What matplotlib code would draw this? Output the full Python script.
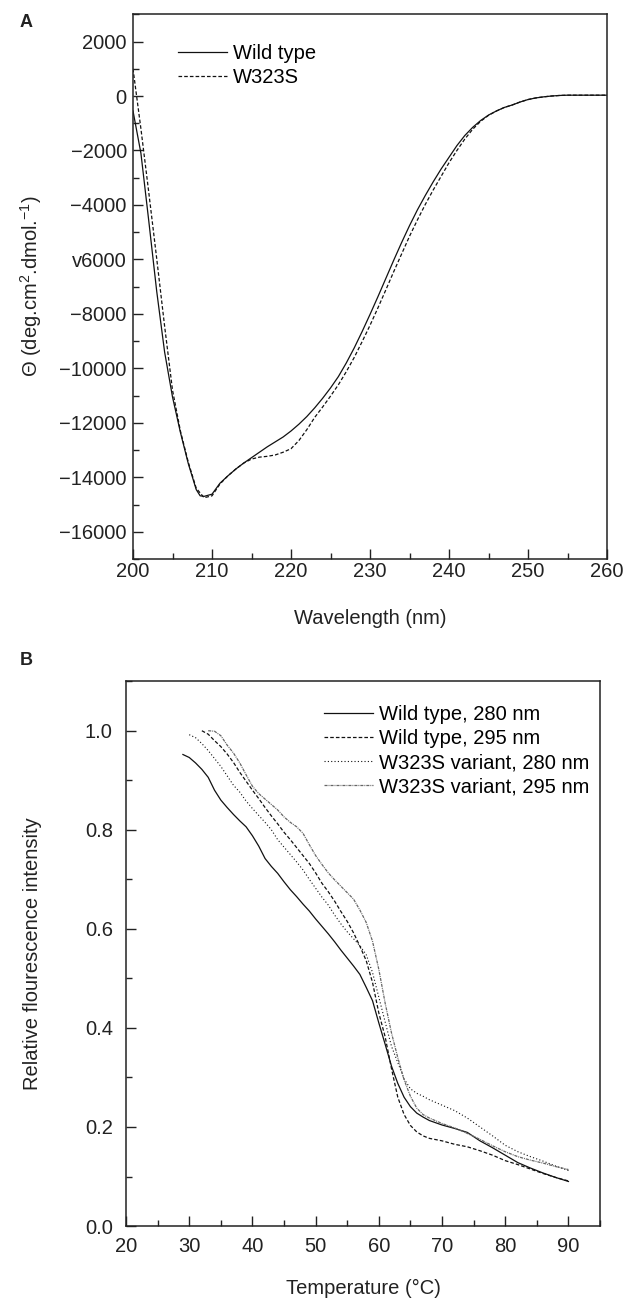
import matplotlib
matplotlib.use("Agg")
import matplotlib.pyplot as plt
from matplotlib.ticker import MultipleLocator, FixedLocator

plt.rcParams['font.family'] = ['Liberation Sans', 'DejaVu Sans']
plt.rcParams['lines.scale_dashes'] = False
plt.rcParams['mathtext.fontset'] = 'custom'
plt.rcParams['mathtext.rm'] = 'Liberation Sans'
plt.rcParams['mathtext.it'] = 'Liberation Sans'

# ---------------- Panel A data (CD spectra) ----------------
wl_wt = [200, 201, 202, 203, 204, 205, 206, 207, 208, 208.5, 209, 210, 211, 212, 213,
         214, 215, 216, 217, 218, 219, 220, 221, 222, 223, 224, 225, 226, 227, 228,
         229, 230, 231, 232, 233, 234, 235, 236, 237, 238, 239, 240, 241, 242, 243,
         244, 245, 246, 247, 248, 249, 250, 251, 252, 253, 254, 255, 256, 257, 258,
         259, 260]
cd_wt = [-550, -2100, -4600, -7170, -9400, -11050, -12350, -13500, -14450, -14680,
         -14700, -14620, -14220, -13950, -13700, -13480, -13280, -13080, -12880,
         -12700, -12520, -12300, -12050, -11770, -11450, -11100, -10720, -10300,
         -9800, -9250, -8650, -8020, -7370, -6700, -6030, -5380, -4760, -4180,
         -3650, -3150, -2680, -2250, -1820, -1450, -1150, -900, -700, -550, -420,
         -330, -220, -130, -70, -30, 0, 20, 30, 30, 30, 30, 30, 30]

wl_mut = [200, 201, 202, 203, 204, 205, 206, 207, 208, 209, 210, 211, 212, 213, 214,
          215, 216, 217, 218, 219, 220, 221, 222, 223, 224, 225, 226, 227, 228, 229,
          230, 231, 232, 233, 234, 235, 236, 237, 238, 239, 240, 241, 242, 243, 244,
          245, 246, 247, 248, 249, 250, 251, 252, 253, 254, 255, 256, 257, 258, 259,
          260]
cd_mut = [1000, -1200, -3550, -5970, -8450, -10800, -12300, -13450, -14400, -14750,
          -14680, -14250, -13950, -13700, -13480, -13330, -13260, -13230, -13180,
          -13080, -12950, -12650, -12250, -11800, -11420, -11020, -10600, -10120,
          -9600, -9020, -8420, -7780, -7120, -6450, -5800, -5150, -4550, -3980,
          -3450, -2950, -2450, -2000, -1580, -1220, -930, -710, -550, -420, -330,
          -220, -130, -70, -30, 0, 20, 30, 30, 30, 30, 30, 30]

a_yticks = [-16000, -14000, -12000, -10000, -8000, -6000, -4000, -2000, 0, 2000]
a_yticklabels = ['\u221216000', '\u221214000', '\u221212000', '\u221210000', '\u22128000',
                 'v6000', '\u22124000', '\u22122000', '0', '2000']
a_xticks = [200, 210, 220, 230, 240, 250, 260]

# ---------------- Panel B data (thermal unfolding) ----------------
t_wt280 = [29, 30, 31, 32, 33, 34, 35, 36, 37, 38, 39, 40, 41, 42, 43, 44, 45, 46, 47,
           48, 49, 50, 51, 52, 53, 54, 55, 56, 57, 58, 59, 60, 61, 62, 63, 64, 65, 66,
           67, 68, 70, 72, 74, 76, 78, 80, 82, 84, 86, 88, 90]
f_wt280 = [0.952, 0.946, 0.935, 0.922, 0.906, 0.880, 0.860, 0.845, 0.831, 0.818,
           0.806, 0.788, 0.767, 0.742, 0.726, 0.712, 0.695, 0.679, 0.665, 0.650,
           0.636, 0.620, 0.605, 0.590, 0.574, 0.557, 0.541, 0.525, 0.508, 0.482,
           0.455, 0.410, 0.367, 0.323, 0.288, 0.260, 0.241, 0.228, 0.220, 0.213,
           0.204, 0.197, 0.189, 0.172, 0.158, 0.143, 0.128, 0.117, 0.107, 0.098,
           0.090]

t_wt295 = [32, 33, 34, 35, 36, 37, 38, 39, 40, 41, 42, 43, 44, 45, 46, 47, 48, 49, 50,
           51, 52, 53, 54, 55, 56, 57, 58, 59, 60, 61, 62, 63, 64, 65, 66, 67, 68, 70,
           72, 74, 76, 78, 80, 82, 84, 86, 88, 90]
f_wt295 = [1.000, 0.993, 0.980, 0.968, 0.953, 0.936, 0.916, 0.898, 0.880, 0.863,
           0.845, 0.828, 0.812, 0.795, 0.780, 0.764, 0.748, 0.732, 0.713, 0.692,
           0.675, 0.656, 0.635, 0.615, 0.592, 0.565, 0.536, 0.492, 0.430, 0.382,
           0.318, 0.260, 0.225, 0.203, 0.190, 0.182, 0.177, 0.172, 0.165, 0.160,
           0.152, 0.143, 0.132, 0.124, 0.115, 0.106, 0.098, 0.091]

t_mut280 = [30, 31, 32, 33, 34, 35, 36, 37, 38, 39, 40, 41, 42, 43, 44, 45, 46, 47, 48,
            49, 50, 51, 52, 53, 54, 55, 56, 57, 58, 59, 60, 61, 62, 63, 64, 65, 66, 67,
            68, 70, 72, 74, 76, 78, 80, 82, 84, 86, 88, 90]
f_mut280 = [0.992, 0.986, 0.974, 0.960, 0.944, 0.928, 0.909, 0.890, 0.876, 0.858,
            0.843, 0.829, 0.815, 0.800, 0.780, 0.765, 0.750, 0.735, 0.719, 0.700,
            0.682, 0.664, 0.648, 0.628, 0.610, 0.594, 0.580, 0.566, 0.548, 0.512,
            0.462, 0.412, 0.363, 0.330, 0.297, 0.277, 0.268, 0.262, 0.255, 0.244,
            0.233, 0.218, 0.200, 0.182, 0.163, 0.150, 0.140, 0.131, 0.121, 0.112]

t_mut295 = [33, 34, 35, 36, 37, 38, 39, 40, 41, 42, 43, 44, 45, 46, 47, 48, 49, 50, 51,
            52, 53, 54, 55, 56, 57, 58, 59, 60, 61, 62, 63, 64, 65, 66, 67, 68, 70, 72,
            74, 76, 78, 80, 82, 84, 86, 88, 90]
f_mut295 = [1.000, 0.999, 0.990, 0.971, 0.955, 0.935, 0.911, 0.888, 0.873, 0.862,
            0.851, 0.840, 0.826, 0.815, 0.806, 0.793, 0.770, 0.748, 0.730, 0.713,
            0.699, 0.686, 0.673, 0.660, 0.638, 0.613, 0.575, 0.518, 0.450, 0.390,
            0.340, 0.295, 0.262, 0.238, 0.225, 0.218, 0.207, 0.198, 0.187, 0.175,
            0.162, 0.150, 0.140, 0.133, 0.127, 0.120, 0.114]

b_xticks = [20, 30, 40, 50, 60, 70, 80, 90]
b_yticks = [0.0, 0.2, 0.4, 0.6, 0.8, 1.0]

# ---------------- Figure ----------------
FS = 14.5
INK = '#222222'
fig = plt.figure(figsize=(6.41, 13.0), dpi=100)

axA = fig.add_axes([0.2075, 0.570, 0.7395, 0.419])
axA.plot(wl_wt, cd_wt, color='#111111', lw=0.9, ls='-', label='Wild type')
axA.plot(wl_mut, cd_mut, color='#111111', lw=0.9, ls=(0, (2.6, 1.5)), label='W323S')
axA.set_xlim(200, 260)
axA.set_ylim(-17000, 3000)
axA.xaxis.set_major_locator(FixedLocator(a_xticks))
axA.xaxis.set_minor_locator(MultipleLocator(5))
axA.yaxis.set_major_locator(FixedLocator(a_yticks))
axA.set_yticklabels(a_yticklabels)
axA.yaxis.set_minor_locator(MultipleLocator(1000))
axA.set_xlabel('Wavelength (nm)', fontsize=FS, color=INK, labelpad=20)
axA.set_ylabel('\u0398 (deg.cm$^{2}$.dmol.$^{\u22121}$)', fontsize=FS, color=INK, labelpad=11)
axA.legend(loc='upper left', bbox_to_anchor=(0.077, 0.960), frameon=False,
           fontsize=FS, handlelength=2.45, handletextpad=0.3, labelspacing=0.25,
           borderaxespad=0.0)

axB = fig.add_axes([0.1966, 0.0569, 0.7395, 0.4191])
axB.plot(t_wt280, f_wt280, color='#111111', lw=0.9, ls='-', label='Wild type, 280 nm')
axB.plot(t_wt295, f_wt295, color='#111111', lw=0.9, ls=(0, (2.6, 1.5)), label='Wild type, 295 nm')
axB.plot(t_mut280, f_mut280, color='#111111', lw=0.8, ls=(0, (0.8, 1.6)), label='W323S variant, 280 nm')
axB.plot(t_mut295, f_mut295, color='#666666', lw=0.9, ls=(0, (2.2, 0.7, 0.7, 0.7)), label='W323S variant, 295 nm')
axB.set_xlim(20, 95)
axB.set_ylim(0, 1.1)
axB.xaxis.set_major_locator(FixedLocator(b_xticks))
axB.xaxis.set_minor_locator(MultipleLocator(5))
axB.yaxis.set_major_locator(FixedLocator(b_yticks))
axB.yaxis.set_minor_locator(MultipleLocator(0.1))
axB.set_yticklabels(['%.1f' % v for v in b_yticks])
axB.set_xlabel('Temperature (\u00b0C)', fontsize=FS, color=INK, labelpad=16.5)
axB.set_ylabel('Relative flourescence intensity', fontsize=FS, color=INK, labelpad=30.5)
axB.legend(loc='upper left', bbox_to_anchor=(0.40, 0.971), frameon=False,
           fontsize=FS, handlelength=2.45, handletextpad=0.3, labelspacing=0.25,
           borderaxespad=0.0)

for ax in (axA, axB):
    for s in ax.spines.values():
        s.set_linewidth(1.1)
        s.set_color(INK)
    ax.tick_params(which='major', direction='in', length=7, width=1.0, labelsize=FS,
                   colors=INK)
    ax.tick_params(which='minor', direction='in', length=4, width=1.0, colors=INK)
    ax.tick_params(top=False, right=False, which='both')

axA.tick_params(axis='y', which='major', pad=4.5)
axA.tick_params(axis='x', which='major', pad=2)
axB.tick_params(axis='y', which='major', pad=9.5)
axB.tick_params(axis='x', which='major', pad=8)

fig.text(0.031, 0.983, 'A', fontsize=13, fontweight='bold', color=INK, va='center')
fig.text(0.031, 0.492, 'B', fontsize=13, fontweight='bold', color=INK, va='center')

fig.savefig('out.png', dpi=100)
